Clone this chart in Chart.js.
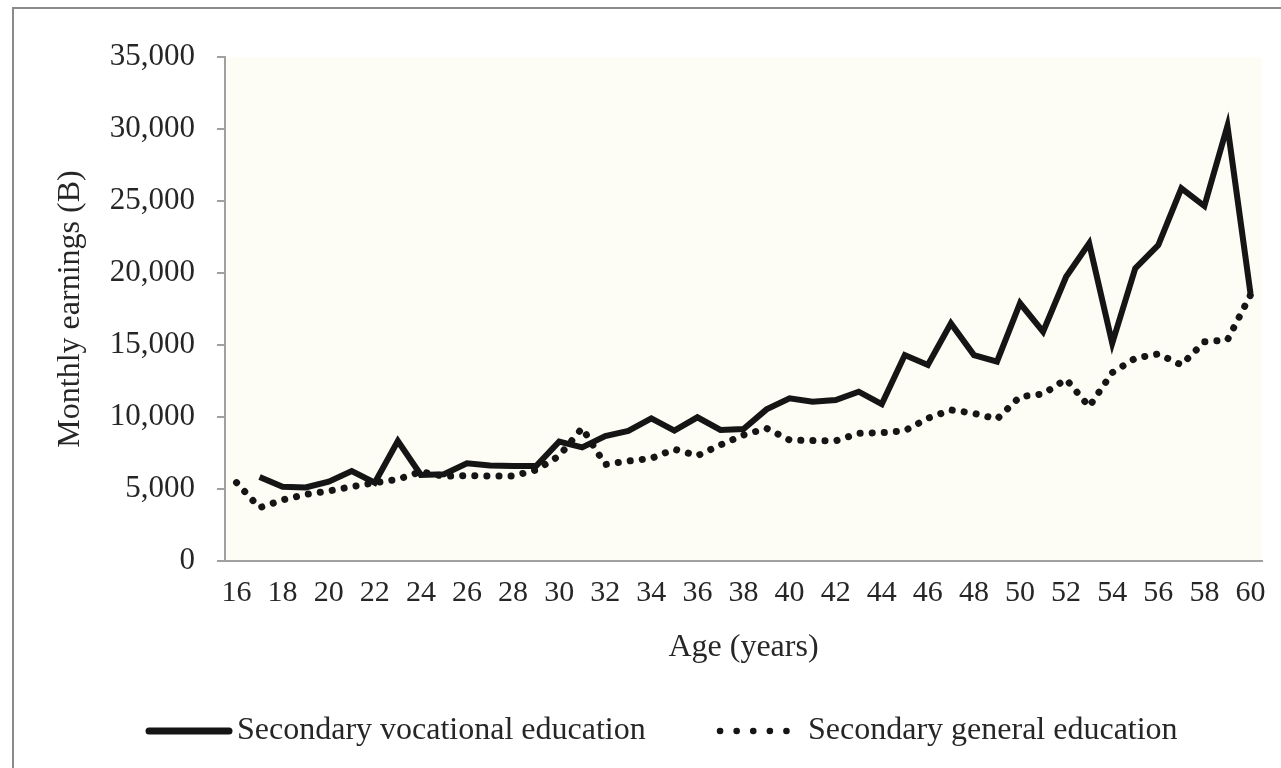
<!DOCTYPE html>
<html>
<head>
<meta charset="utf-8">
<script src="https://cdn.jsdelivr.net/npm/chart.js@4/dist/chart.umd.min.js"></script>
<style>
  html, body { margin: 0; padding: 0; background: #ffffff; overflow: hidden; }
  #wrap { position: absolute; left: 0; top: 0; width: 1281px; height: 768px; }
</style>
</head>
<body>
<div id="wrap"><canvas id="c" width="1281" height="768"></canvas></div>
<script>
const ages = [16,17,18,19,20,21,22,23,24,25,26,27,28,29,30,31,32,33,34,35,36,37,38,39,40,41,42,43,44,45,46,47,48,49,50,51,52,53,54,55,56,57,58,59,60];
const vocational = [null,5830,5160,5110,5510,6250,5440,8330,5970,6020,6780,6640,6600,6600,8290,7890,8680,9030,9910,9050,9980,9100,9170,10530,11300,11060,11180,11760,10900,14300,13610,16500,14300,13840,17900,15920,19740,22060,15120,20320,21940,25880,24650,30210,18590];
const general = [5440,3700,4240,4630,4860,5160,5440,5670,6200,5880,5930,5900,5900,6320,7300,9230,6700,6940,7130,7760,7310,8060,8750,9210,8400,8360,8350,8870,8910,9050,9910,10490,10260,9860,11410,11600,12620,10720,13080,14080,14380,13610,15230,15350,18470];
const seriesNames = ["Secondary vocational education", "Secondary general education"];
const yTitle = "Monthly earnings (B)";
const xTitle = "Age (years)";

const FONT = "'Liberation Serif', 'Times New Roman', serif";
const TEXT = "#262626";
const AXIS = "#a0a0a0";

const framePlugin = {
  id: 'frame',
  beforeDraw(chart) {
    const {ctx, chartArea: a} = chart;
    ctx.save();
    ctx.fillStyle = '#fdfdf5';
    ctx.fillRect(a.left, a.top, a.right - a.left, a.bottom - a.top);
    ctx.strokeStyle = '#8a8a8a';
    ctx.lineWidth = 2;
    ctx.beginPath();
    ctx.moveTo(13, 800); ctx.lineTo(13, 8); ctx.lineTo(1300, 8);
    ctx.stroke();
    ctx.restore();
  },
  afterDraw(chart) {
    const {ctx} = chart;
    const ds = chart.data.datasets;
    ctx.save();
    const y = 731;
    ctx.strokeStyle = ds[0].borderColor;
    ctx.lineWidth = 7;
    ctx.lineCap = 'round';
    ctx.setLineDash([]);
    ctx.beginPath(); ctx.moveTo(149, y); ctx.lineTo(229, y); ctx.stroke();
    ctx.strokeStyle = ds[1].borderColor;
    ctx.lineWidth = 6.5;
    ctx.lineCap = 'round';
    ctx.setLineDash([0.1, 16.5]);
    ctx.beginPath(); ctx.moveTo(720, y); ctx.lineTo(803, y); ctx.stroke();
    ctx.setLineDash([]);
    ctx.fillStyle = TEXT;
    ctx.font = "32px " + FONT;
    ctx.textBaseline = 'middle';
    ctx.textAlign = 'left';
    ctx.fillText(ds[0].label, 237, y);
    ctx.fillText(ds[1].label, 808, y);
    ctx.restore();
  }
};

new Chart(document.getElementById('c'), {
  type: 'line',
  data: {
    labels: ages,
    datasets: [
      {
        label: seriesNames[0],
        data: vocational,
        borderColor: '#151515',
        borderWidth: 6,
        borderJoinStyle: 'miter',
        borderCapStyle: 'butt',
        pointRadius: 0,
        tension: 0,
        spanGaps: false
      },
      {
        label: seriesNames[1],
        data: general,
        borderColor: '#151515',
        borderWidth: 7,
        borderDash: [0.1, 12],
        borderCapStyle: 'round',
        borderJoinStyle: 'round',
        pointRadius: 0,
        tension: 0
      }
    ]
  },
  options: {
    responsive: false,
    animation: false,
    events: [],
    layout: { padding: { left: 0, top: 57, right: 19, bottom: 97 } },
    plugins: {
      legend: { display: false },
      tooltip: { enabled: false },
      title: { display: false }
    },
    scales: {
      x: {
        type: 'category',
        offset: true,
        afterFit(s) { s.height = 110; },
        grid: { display: true, drawOnChartArea: false, drawTicks: false, color: AXIS },
        border: { display: true, color: AXIS, width: 2 },
        ticks: {
          autoSkip: false,
          maxRotation: 0,
          minRotation: 0,
          padding: 14,
          color: TEXT,
          font: { family: FONT, size: 30 },
          callback(value, index) { return index % 2 === 0 ? this.getLabelForValue(value) : ''; }
        },
        title: {
          display: true,
          text: xTitle,
          color: TEXT,
          font: { family: FONT, size: 32 },
          padding: { top: 0, bottom: 4 }
        }
      },
      y: {
        min: 0,
        max: 35000,
        afterFit(s) { s.width = 225; },
        grid: { display: true, drawOnChartArea: false, drawTicks: true, tickLength: 8, color: AXIS, lineWidth: 2 },
        border: { display: true, color: AXIS, width: 2 },
        ticks: {
          stepSize: 5000,
          padding: 22,
          color: TEXT,
          font: { family: FONT, size: 31 },
          callback(v) { return v.toLocaleString('en-US'); }
        },
        title: {
          display: true,
          text: yTitle,
          color: TEXT,
          font: { family: FONT, size: 32 },
          padding: { top: 51, bottom: 0 }
        }
      }
    }
  },
  plugins: [framePlugin]
});
</script>
</body>
</html>
